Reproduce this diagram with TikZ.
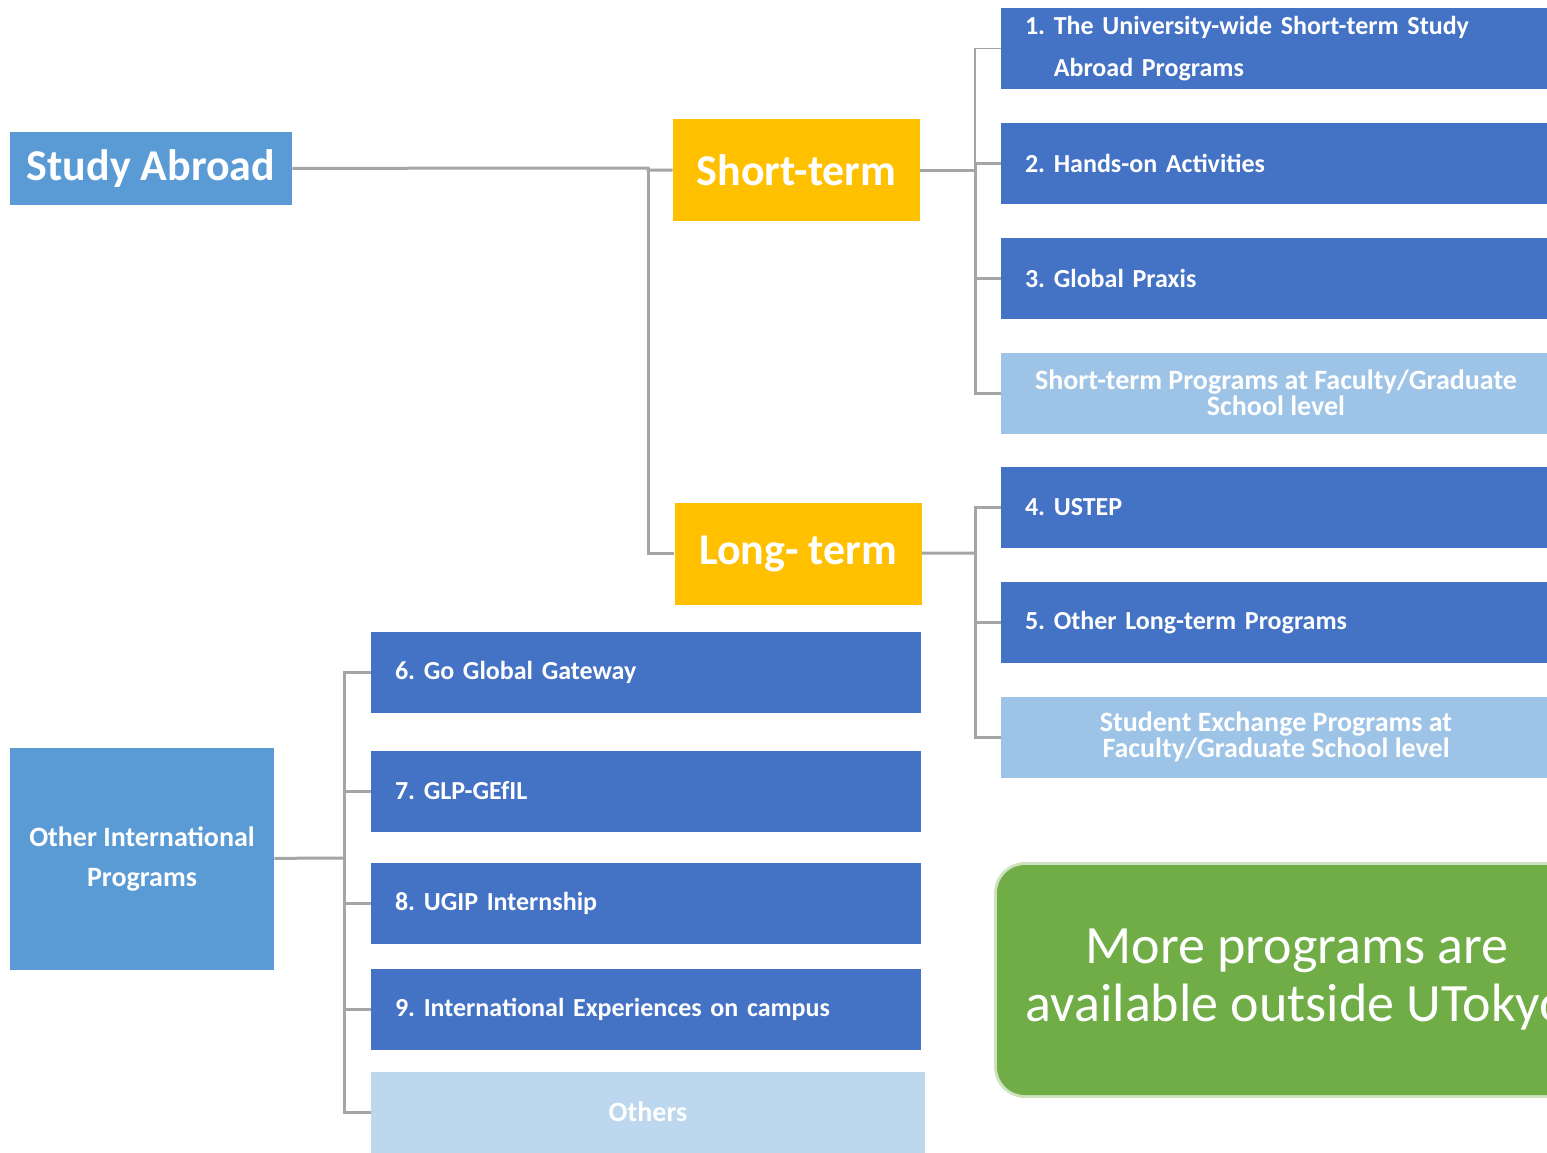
\documentclass[tikz,border=0pt]{standalone}
\usepackage{fontspec}
\setmainfont{Carlito}
\frenchspacing
\definecolor{headblue}{HTML}{5B9BD5}
\definecolor{amber}{HTML}{FFC000}
\definecolor{progblue}{HTML}{4472C4}
\definecolor{paleblue}{HTML}{9DC3E6}
\definecolor{paleblueb}{HTML}{BDD7EE}
\definecolor{leafgreen}{HTML}{70AD47}
\definecolor{linegray}{HTML}{A5A5A5}
\begin{document}
\begin{tikzpicture}[x=0.5pt,y=-0.5pt,
  every node/.style={rectangle,inner sep=0pt,text=white},
  head/.style={fill=headblue,font=\bfseries\fontsize{22}{26}\selectfont},
  term/.style={fill=amber,minimum width=123.5pt,minimum height=51pt,font=\bfseries\fontsize{22}{26}\selectfont},
  prog/.style={fill=progblue,minimum height=40.5pt,text width=251pt,inner xsep=12pt,align=left,font=\bfseries\fontsize{13}{21}\selectfont},
  faculty/.style={fill=paleblue,minimum width=275pt,minimum height=40.5pt,align=center,font=\bfseries\fontsize{14}{12}\selectfont},
  link/.style={draw=linegray,line width=1.5pt}]
  \clip (0,0) rectangle (1547,1152);

  \node (a) [head,minimum width=141pt,minimum height=36.5pt] at (151,168.5) {Study Abroad};
  \node (s) [term] at (796.5,170) {Short-term};
  \node (l) [term] at (798,553.5) {Long- term};

  \node (b1) [prog] at (1276,48.5) {1. The University-wide Short-term Study\\\phantom{1.~}Abroad Programs};
  \node (b2) [prog] at (1276,163.5) {2. Hands-on Activities};
  \node (b3) [prog] at (1276,278) {3. Global Praxis};
  \node (b4) [faculty] at (1276,393) {Short-term Programs at Faculty/Graduate\\School level};
  \node (b5) [prog] at (1276,507.5) {4. USTEP};
  \node (b6) [prog] at (1276,622.5) {5. Other Long-term Programs};
  \node (b7) [faculty] at (1276,737) {Student Exchange Programs at\\Faculty/Graduate School level};

  \node (o) [head,minimum width=132pt,minimum height=111pt,align=center,font=\bfseries\fontsize{14}{20}\selectfont] at (142,859) {Other International\\Programs};

  \node (c1) [prog] at (646,672.5) {6. Go Global Gateway};
  \node (c2) [prog] at (646,791) {7. GLP-GEfIL};
  \node (c3) [prog] at (646,903) {8. UGIP Internship};
  \node (c4) [prog] at (646,1009) {9. International Experiences on campus};
  \node (c5) [fill=paleblueb,minimum width=277pt,minimum height=40.5pt,font=\bfseries\fontsize{14}{16}\selectfont] at (648,1112) {Others};

  \node (m) [fill=leafgreen,rounded corners=14pt,minimum width=300pt,minimum height=115pt,align=center,
    preaction={draw=leafgreen,line width=3pt,opacity=0.35,rounded corners=14pt},
    font=\fontsize{27}{29}\selectfont] at (1297,980) {More programs are\\available outside UTokyo};

  \coordinate (j0) at (648,168);
  \coordinate (j1) at (975,170);
  \coordinate (j2) at (975,553);
  \coordinate (j3) at (344,858);

  \draw[link] (a) -- (j0) |- (s);
  \draw[link] (j0) |- (l);

  \draw[link] (s) -- (j1);
  \draw[link,line width=0.8pt] (j1) |- (b1);
  \draw[link] (j1) |- (b2);
  \draw[link] (j1) |- (b3);
  \draw[link] (j1) |- (b4);

  \draw[link] (l) -- (j2);
  \draw[link] (j2) |- (b5);
  \draw[link] (j2) |- (b6);
  \draw[link] (j2) |- (b7);

  \draw[link] (o) -- (j3);
  \draw[link] (j3) |- (c1);
  \draw[link] (j3) |- (c2);
  \draw[link] (j3) |- (c3);
  \draw[link] (j3) |- (c4);
  \draw[link] (j3) |- (c5);
\end{tikzpicture}
\end{document}
